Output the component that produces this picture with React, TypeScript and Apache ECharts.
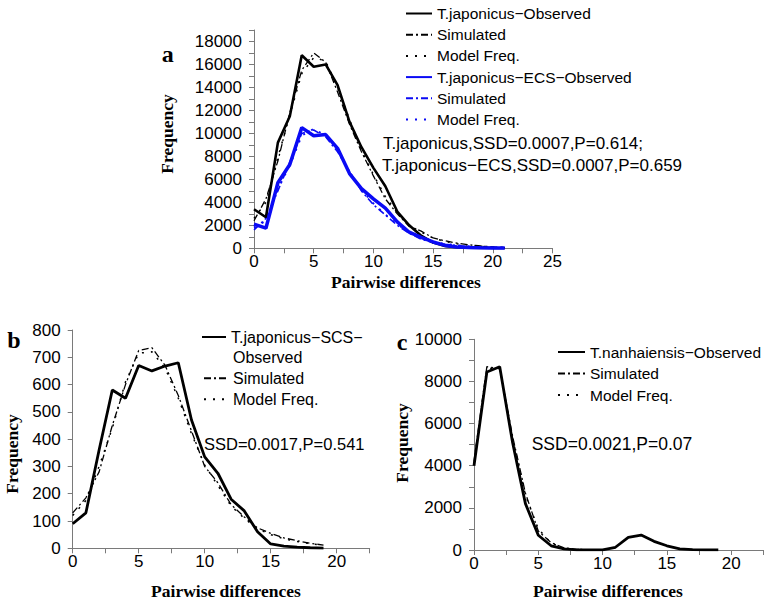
import React, { useEffect, useRef } from "react";
import * as echarts from "echarts";

// ---- Panel a: T.japonicus and T.japonicus-ECS ----
const aX = [0, 1, 2, 3, 4, 5, 6, 7, 8, 9, 10, 11, 12, 13, 14, 15, 16, 17, 18, 19, 20, 21];
const aObs = [3400, 2700, 9200, 11500, 16800, 15800, 16000, 14200, 11000, 8800, 7000, 5400, 3200, 2000, 1100, 500, 200, 100, 60, 40, 20, 10];
const aSim = [2400, 4300, 7600, 11800, 15500, 17000, 16200, 13600, 10800, 8400, 6300, 4300, 3000, 1900, 1500, 900, 650, 450, 300, 200, 120, 80];
const aMod = [2600, 4000, 7900, 11600, 15200, 16600, 16300, 14000, 11200, 8600, 6400, 4500, 3100, 2000, 1400, 900, 600, 400, 280, 180, 110, 70];
const eObs = [2100, 1750, 5700, 7300, 10500, 9800, 9900, 8700, 6500, 5200, 4300, 3500, 2300, 1400, 950, 550, 250, 120, 80, 50, 30, 20];
const eSim = [1600, 2600, 5000, 7500, 10000, 10300, 9700, 8400, 6700, 5000, 3800, 2900, 2000, 1300, 800, 500, 350, 250, 150, 100, 60, 40];
const eMod = [1800, 2400, 5200, 7200, 9800, 10400, 9800, 8600, 6600, 5100, 3900, 2950, 2100, 1350, 850, 550, 380, 260, 170, 110, 70, 40];

// ---- Panel b: T.japonicus-SCS ----
const bX = [0, 1, 2, 3, 4, 5, 6, 7, 8, 9, 10, 11, 12, 13, 14, 15, 16, 17, 18, 19];
const bObs = [90, 130, 360, 580, 550, 670, 650, 668, 680, 470, 335, 275, 180, 137, 61, 16, 8, 4, 2, 1];
const bSim = [130, 185, 280, 450, 600, 725, 735, 670, 560, 430, 300, 240, 160, 115, 75, 55, 38, 28, 18, 12];
const bMod = [120, 175, 300, 440, 610, 715, 720, 660, 550, 420, 305, 230, 155, 110, 72, 50, 35, 25, 17, 10];

// ---- Panel c: T.nanhaiensis ----
const cX = [0, 1, 2, 3, 4, 5, 6, 7, 8, 9, 10, 11, 12, 13, 14, 15, 16, 17, 18, 19];
const cObs = [4000, 8450, 8700, 5100, 2200, 700, 200, 50, 10, 5, 10, 130, 600, 710, 410, 200, 50, 20, 10, 5];
const cModelX = [0, 1, 2, 3, 4, 5, 6, 7, 8, 9, 10];
const cSim = [4200, 8700, 8600, 5400, 2700, 900, 350, 100, 30, 10, 5];
const cMod = [4100, 8600, 8650, 5300, 2600, 1000, 320, 90, 25, 8, 3];

const legendNames: Record<string, string> = {
  aObs: "T.japonicus\u2212Observed",
  aSim: "Simulated",
  aMod: "Model Freq.",
  eObs: "T.japonicus\u2212ECS\u2212Observed",
  eSim: "Simulated",
  eMod: "Model Freq.",
  bObs: "T.japonicus\u2212SCS\u2212",
  bSim: "Simulated",
  bMod: "Model Freq.",
  cObs: "T.nanhaiensis\u2212Observed",
  cSim: "Simulated",
  cMod: "Model Freq.",
};

const statA1 = "T.japonicus,SSD=0.0007,P=0.614;";
const statA2 = "T.japonicus\u2212ECS,SSD=0.0007,P=0.659";
const statB = "SSD=0.0017,P=0.541";
const statC = "SSD=0.0021,P=0.07";
const xName = "Pairwise differences";
const yName = "Frequency";

const SANS = "Liberation Sans";
const SERIF = "Liberation Serif";
const AXIS_COLOR = "#7a7a7a";
const BLUE = "#0a0af5";
const DASHDOT = [7, 3, 2, 3];
const DOTTED = [2, 7];

const pairs = (xs: number[], ys: number[]) => xs.map((x, i) => [x, ys[i]]);

function xAxisOf(grid: number, max: number) {
  return {
    type: "value",
    gridIndex: grid,
    min: 0,
    max,
    interval: 2.5,
    splitLine: { show: false },
    axisLine: { show: true, lineStyle: { color: AXIS_COLOR, width: 1 } },
    axisTick: { show: true, length: 5, lineStyle: { color: AXIS_COLOR } },
    axisLabel: {
      margin: 5,
      color: "#000",
      fontFamily: SANS,
      fontSize: 17,
      formatter: (v: number) => (v % 5 === 0 ? String(v) : ""),
    },
  };
}

function yAxisOf(grid: number, max: number, interval: number, labelStep: number) {
  return {
    type: "value",
    gridIndex: grid,
    min: 0,
    max,
    interval,
    splitLine: { show: false },
    axisLine: { show: true, lineStyle: { color: AXIS_COLOR, width: 1 } },
    axisTick: { show: true, length: 5, lineStyle: { color: AXIS_COLOR } },
    axisLabel: {
      margin: 12,
      color: "#000",
      fontFamily: SANS,
      fontSize: 17,
      formatter: (v: number) => (v % labelStep === 0 ? String(v) : ""),
    },
  };
}

function lineSeries(id: string, grid: number, data: number[][], color: string, width: number, type: any) {
  return {
    type: "line",
    name: id,
    xAxisIndex: grid,
    yAxisIndex: grid,
    data,
    symbol: "none",
    showSymbol: false,
    lineStyle: { color, width, type },
    itemStyle: { color },
    emphasis: { disabled: true },
  };
}

function legendOf(data: string[], left: number, top: number, itemWidth: number, fontSize: number, itemGap: number) {
  return {
    orient: "vertical",
    left,
    top,
    padding: 0,
    itemWidth,
    itemHeight: 14,
    itemGap,
    selectedMode: false,
    data,
    itemStyle: { color: "rgba(0,0,0,0)", borderWidth: 0, opacity: 0 },
    formatter: (name: string) => legendNames[name],
    textStyle: { color: "#000", fontFamily: SANS, fontSize },
  };
}

function txt(text: string, x: number, y: number, fontSize: number, opts: any = {}) {
  return {
    type: "text",
    x,
    y,
    rotation: opts.rotation || 0,
    style: {
      text,
      fill: "#000",
      font: `${opts.bold ? "bold " : ""}${fontSize}px "${opts.family || SANS}"`,
      align: opts.align || "left",
      verticalAlign: "middle",
    },
  };
}

export default function App() {
  const ref = useRef<HTMLDivElement>(null);

  useEffect(() => {
    if (!ref.current) return;
    const chart = echarts.init(ref.current, null, { renderer: "svg" });
    const option: any = {
      animation: false,
      backgroundColor: "#fff",
      grid: [
        { left: 254, top: 30, width: 298.5, height: 218.3 },
        { left: 72.7, top: 330, width: 297, height: 218.3 },
        { left: 474, top: 339.3, width: 289.3, height: 210.7 },
      ],
      xAxis: [xAxisOf(0, 25), xAxisOf(1, 22.5), xAxisOf(2, 22.5)],
      yAxis: [yAxisOf(0, 19000, 1000, 2000), yAxisOf(1, 800, 100, 100), yAxisOf(2, 10000, 1000, 2000)],
      legend: [
        legendOf(["aObs", "aSim", "aMod", "eObs", "eSim", "eMod"], 405, 5.5, 26, 15.5, 5.2),
        legendOf(["bObs"], 201, 329, 24, 16, 5),
        legendOf(["bSim", "bMod"], 203, 370.3, 24, 16, 5),
        legendOf(["cObs", "cSim", "cMod"], 557, 344, 27, 15.5, 5.5),
      ],
      series: [
        lineSeries("aSim", 0, pairs(aX, aSim), "#000", 1.3, DASHDOT),
        lineSeries("aMod", 0, pairs(aX, aMod), "#000", 1.5, DOTTED),
        lineSeries("eSim", 0, pairs(aX, eSim), BLUE, 1.6, DASHDOT),
        lineSeries("eMod", 0, pairs(aX, eMod), BLUE, 1.8, DOTTED),
        lineSeries("aObs", 0, pairs(aX, aObs), "#000", 2.6, "solid"),
        lineSeries("eObs", 0, pairs(aX, eObs), BLUE, 3.5, "solid"),
        lineSeries("bSim", 1, pairs(bX, bSim), "#000", 1.3, DASHDOT),
        lineSeries("bMod", 1, pairs(bX, bMod), "#000", 1.5, DOTTED),
        lineSeries("bObs", 1, pairs(bX, bObs), "#000", 2.8, "solid"),
        lineSeries("cSim", 2, pairs(cModelX, cSim), "#000", 1.3, DASHDOT),
        lineSeries("cMod", 2, pairs(cModelX, cMod), "#000", 1.5, DOTTED),
        lineSeries("cObs", 2, pairs(cX, cObs), "#000", 2.8, "solid"),
      ],
      graphic: [
        txt("a", 167.7, 53.5, 24, { bold: true, family: SERIF, align: "center" }),
        txt("b", 14, 339.8, 24, { bold: true, family: SERIF, align: "center" }),
        txt("c", 402, 341.8, 24, { bold: true, family: SERIF, align: "center" }),
        txt(yName, 166.5, 134, 17.5, { bold: true, family: SERIF, align: "center", rotation: Math.PI / 2 }),
        txt(yName, 11.7, 454, 17.5, { bold: true, family: SERIF, align: "center", rotation: Math.PI / 2 }),
        txt(yName, 401.7, 443, 17.5, { bold: true, family: SERIF, align: "center", rotation: Math.PI / 2 }),
        txt(xName, 406, 282, 17.5, { bold: true, family: SERIF, align: "center" }),
        txt(xName, 226, 591, 17.5, { bold: true, family: SERIF, align: "center" }),
        txt(xName, 608, 591, 17.5, { bold: true, family: SERIF, align: "center" }),
        txt(statA1, 383, 143.3, 17),
        txt(statA2, 382, 165.5, 17),
        txt(statB, 204, 444, 16.5),
        txt(statC, 531.7, 444, 17.5),
        txt("Observed", 233, 357.3, 16),
      ],
    };
    chart.setOption(option);
    return () => chart.dispose();
  }, []);

  return (
    <div
      ref={ref}
      style={{ position: "fixed", left: 0, top: 0, width: 769, height: 605, background: "#fff" }}
    />
  );
}
